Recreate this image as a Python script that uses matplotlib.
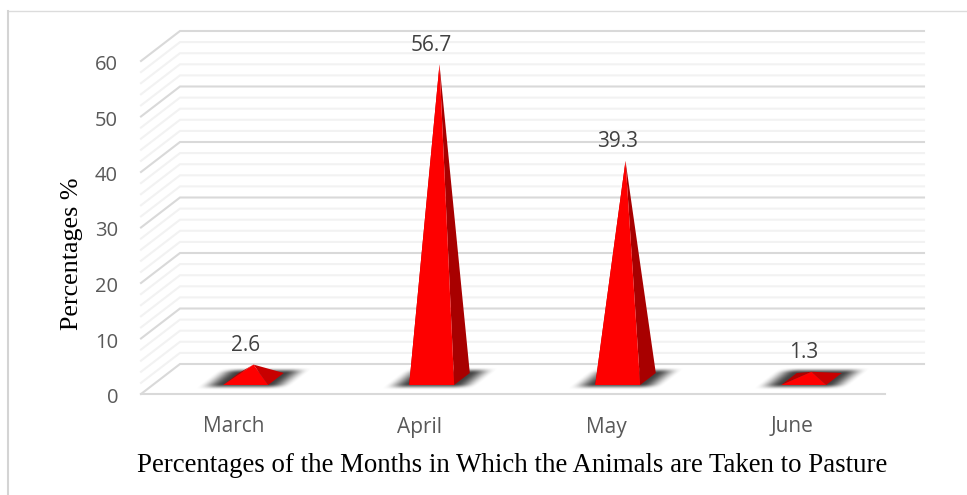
import numpy as np
import matplotlib
matplotlib.use('Agg')
import matplotlib.pyplot as plt
from matplotlib.patches import Polygon

months = ['March', 'April', 'May', 'June']
percentages = [2.6, 56.7, 39.3, 1.3]
y_ticks = [0, 10, 20, 30, 40, 50, 60]
minor_ticks = [v for v in range(0, 61, 2) if v % 10 != 0]

W, H = 967, 495
# one category is 186 px wide, one percent is 5.55 px tall
CAT_PX = 186.0
VAL_PX = 5.55
X0_PX = 234.0
Y0_PX = 394.0
DEPTH_X = 39.0 / CAT_PX
DEPTH_Y = 30.0 / VAL_PX
HALF_W = 22.5 / CAT_PX


def project(x, v, d):
    # oblique projection, d runs from the front of the floor (0) to the wall (1)
    return x + d * DEPTH_X, v + d * DEPTH_Y


def face(ax, pts, color, z):
    ax.add_patch(Polygon(pts, closed=True, facecolor=color, edgecolor='none',
                         zorder=z))


def smooth(a):
    a = np.clip(a, 0, 1)
    return a * a * (3 - 2 * a)


def floor_shadow(ax, i):
    # soft dark patch lying on the floor under a pyramid
    xs = np.linspace(i - 0.35, i + 0.55, 340)
    vs = np.linspace(0, DEPTH_Y, 80)
    gx, gv = np.meshgrid(xs, vs)
    d = gv / DEPTH_Y
    u = gx - d * DEPTH_X - i
    hw_out, hw_in = 47 / CAT_PX, 23 / CAT_PX
    alpha = smooth((hw_out - np.abs(u)) / (hw_out - hw_in)) \
        * smooth((0.37 - np.abs(d - 0.5)) / 0.2)
    img = np.zeros(gx.shape + (4,))
    img[..., :3] = 0.18
    img[..., 3] = 0.9 * alpha
    ax.imshow(img, extent=(xs[0], xs[-1], vs[0], vs[-1]), origin='lower',
              aspect='auto', interpolation='bilinear', zorder=4)


fig = plt.figure(figsize=(W / 100, H / 100), dpi=100)
ax = fig.add_axes([0, 0, 1, 1])

# outer frame, only top and left show
ax.plot([8 / W, 1], [1 - 10.5 / H, 1 - 10.5 / H], transform=ax.transAxes,
        color='#dcdcdc', lw=1.0, zorder=1)
ax.plot([8 / W, 8 / W], [0, 1 - 10.5 / H], transform=ax.transAxes,
        color='#d4d4d4', lw=1.5, zorder=1)

x_left, x_right = -0.5, 3.5

for values, color, lw, z in [(minor_ticks, '#f2f2f2', 1.5, 2),
                             (y_ticks, '#d9d9d9', 1.5, 3)]:
    for v in values:
        xa, ya = project(x_left, v, 0)
        xb, yb = project(x_left, v, 1)
        xc, yc = project(x_right, v, 1)
        ax.plot([xa, xb, xc], [ya, yb, yc], color=color, lw=lw, zorder=z,
                solid_joinstyle='miter')

# floor edge at the front
ax.plot([x_left, x_right], [0, 0], color='#d9d9d9', lw=1.5, zorder=3)

for v in y_ticks:
    ax.annotate(str(v), (x_left, v), xytext=(-23, -4), textcoords='offset pixels',
                ha='right', va='center', fontsize=14.5, color='#595959',
                family='Open Sans')

for i, (month, val) in enumerate(zip(months, percentages)):
    ax.annotate(month, (i, 0), xytext=(0, -33), textcoords='offset pixels',
                ha='center', va='center', fontsize=15, color='#595959',
                family='Open Sans')

    floor_shadow(ax, i)

    # four faces of the pyramid, back to front
    fl = project(i - HALF_W, 0, 0.3)
    fr = project(i + HALF_W, 0, 0.3)
    br = project(i + HALF_W, 0, 0.7)
    bl = project(i - HALF_W, 0, 0.7)
    apex = project(i, val, 0.5)
    face(ax, [fl, bl, apex], '#b00000', 5)
    face(ax, [fr, br, apex], '#a80000' if val > 10 else '#c80000', 6)
    face(ax, [fl, fr, apex], '#fe0000', 7)

    ax.annotate(f'{val}', apex, xytext=(-8, 19), textcoords='offset pixels',
                ha='center', va='center', fontsize=15, color='#404040',
                family='Open Sans', zorder=8)

ax.text(512 / W, 1 - 465 / H, 'Percentages of the Months in Which the Animals are Taken to Pasture',
        transform=ax.transAxes, ha='center', va='center', fontsize=19.4,
        family='Liberation Serif', color='black')
ax.text(72 / W, 1 - 254 / H, 'Percentages %', transform=ax.transAxes, rotation=90,
        ha='center', va='center', fontsize=18.7, family='Liberation Serif', color='black')

# imshow resets the view, so the limits are set once everything is drawn
ax.set_xlim(-X0_PX / CAT_PX, (W - X0_PX) / CAT_PX)
ax.set_ylim(-(H - Y0_PX) / VAL_PX, Y0_PX / VAL_PX)
ax.axis('off')

fig.savefig('out.png', dpi=100)
